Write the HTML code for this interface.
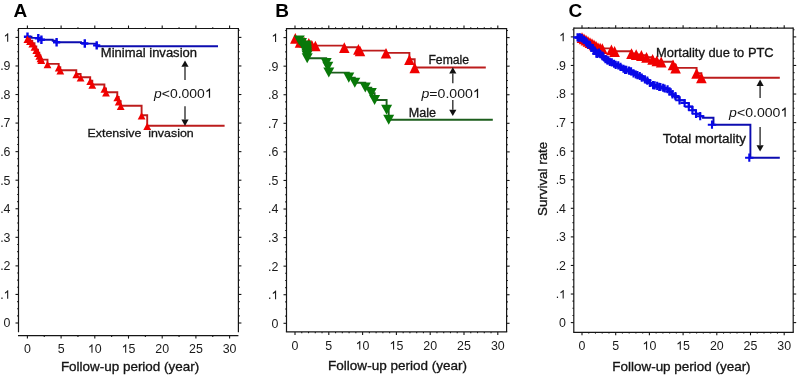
<!DOCTYPE html>
<html><head><meta charset="utf-8"><style>
html,body{margin:0;padding:0;background:#fff;}
svg{display:block;font-family:"Liberation Sans", sans-serif;will-change:transform;}
</style></head><body>
<svg width="798" height="375" viewBox="0 0 798 375">
<rect width="798" height="375" fill="#fff"/>
<line x1="18.50" y1="28.50" x2="238.40" y2="28.50" stroke="#151515" stroke-width="1.2"/>
<line x1="18.50" y1="27.90" x2="18.50" y2="332.30" stroke="#151515" stroke-width="1.2"/>
<line x1="238.40" y1="27.90" x2="238.40" y2="332.30" stroke="#151515" stroke-width="1.2"/>
<line x1="18.00" y1="335.60" x2="238.40" y2="335.60" stroke="#151515" stroke-width="1.2"/>
<line x1="15.50" y1="323.00" x2="18.50" y2="323.00" stroke="#151515" stroke-width="1.1"/>
<line x1="238.40" y1="323.00" x2="241.40" y2="323.00" stroke="#151515" stroke-width="1.1"/>
<line x1="17.20" y1="315.86" x2="18.50" y2="315.86" stroke="#151515" stroke-width="1.1"/>
<line x1="238.40" y1="315.86" x2="239.70" y2="315.86" stroke="#151515" stroke-width="1.1"/>
<line x1="17.20" y1="308.72" x2="18.50" y2="308.72" stroke="#151515" stroke-width="1.1"/>
<line x1="238.40" y1="308.72" x2="239.70" y2="308.72" stroke="#151515" stroke-width="1.1"/>
<line x1="17.20" y1="301.58" x2="18.50" y2="301.58" stroke="#151515" stroke-width="1.1"/>
<line x1="238.40" y1="301.58" x2="239.70" y2="301.58" stroke="#151515" stroke-width="1.1"/>
<line x1="15.50" y1="294.44" x2="18.50" y2="294.44" stroke="#151515" stroke-width="1.1"/>
<line x1="238.40" y1="294.44" x2="241.40" y2="294.44" stroke="#151515" stroke-width="1.1"/>
<line x1="17.20" y1="287.30" x2="18.50" y2="287.30" stroke="#151515" stroke-width="1.1"/>
<line x1="238.40" y1="287.30" x2="239.70" y2="287.30" stroke="#151515" stroke-width="1.1"/>
<line x1="17.20" y1="280.16" x2="18.50" y2="280.16" stroke="#151515" stroke-width="1.1"/>
<line x1="238.40" y1="280.16" x2="239.70" y2="280.16" stroke="#151515" stroke-width="1.1"/>
<line x1="17.20" y1="273.02" x2="18.50" y2="273.02" stroke="#151515" stroke-width="1.1"/>
<line x1="238.40" y1="273.02" x2="239.70" y2="273.02" stroke="#151515" stroke-width="1.1"/>
<line x1="15.50" y1="265.88" x2="18.50" y2="265.88" stroke="#151515" stroke-width="1.1"/>
<line x1="238.40" y1="265.88" x2="241.40" y2="265.88" stroke="#151515" stroke-width="1.1"/>
<line x1="17.20" y1="258.74" x2="18.50" y2="258.74" stroke="#151515" stroke-width="1.1"/>
<line x1="238.40" y1="258.74" x2="239.70" y2="258.74" stroke="#151515" stroke-width="1.1"/>
<line x1="17.20" y1="251.60" x2="18.50" y2="251.60" stroke="#151515" stroke-width="1.1"/>
<line x1="238.40" y1="251.60" x2="239.70" y2="251.60" stroke="#151515" stroke-width="1.1"/>
<line x1="17.20" y1="244.46" x2="18.50" y2="244.46" stroke="#151515" stroke-width="1.1"/>
<line x1="238.40" y1="244.46" x2="239.70" y2="244.46" stroke="#151515" stroke-width="1.1"/>
<line x1="15.50" y1="237.32" x2="18.50" y2="237.32" stroke="#151515" stroke-width="1.1"/>
<line x1="238.40" y1="237.32" x2="241.40" y2="237.32" stroke="#151515" stroke-width="1.1"/>
<line x1="17.20" y1="230.18" x2="18.50" y2="230.18" stroke="#151515" stroke-width="1.1"/>
<line x1="238.40" y1="230.18" x2="239.70" y2="230.18" stroke="#151515" stroke-width="1.1"/>
<line x1="17.20" y1="223.04" x2="18.50" y2="223.04" stroke="#151515" stroke-width="1.1"/>
<line x1="238.40" y1="223.04" x2="239.70" y2="223.04" stroke="#151515" stroke-width="1.1"/>
<line x1="17.20" y1="215.90" x2="18.50" y2="215.90" stroke="#151515" stroke-width="1.1"/>
<line x1="238.40" y1="215.90" x2="239.70" y2="215.90" stroke="#151515" stroke-width="1.1"/>
<line x1="15.50" y1="208.76" x2="18.50" y2="208.76" stroke="#151515" stroke-width="1.1"/>
<line x1="238.40" y1="208.76" x2="241.40" y2="208.76" stroke="#151515" stroke-width="1.1"/>
<line x1="17.20" y1="201.62" x2="18.50" y2="201.62" stroke="#151515" stroke-width="1.1"/>
<line x1="238.40" y1="201.62" x2="239.70" y2="201.62" stroke="#151515" stroke-width="1.1"/>
<line x1="17.20" y1="194.48" x2="18.50" y2="194.48" stroke="#151515" stroke-width="1.1"/>
<line x1="238.40" y1="194.48" x2="239.70" y2="194.48" stroke="#151515" stroke-width="1.1"/>
<line x1="17.20" y1="187.34" x2="18.50" y2="187.34" stroke="#151515" stroke-width="1.1"/>
<line x1="238.40" y1="187.34" x2="239.70" y2="187.34" stroke="#151515" stroke-width="1.1"/>
<line x1="15.50" y1="180.20" x2="18.50" y2="180.20" stroke="#151515" stroke-width="1.1"/>
<line x1="238.40" y1="180.20" x2="241.40" y2="180.20" stroke="#151515" stroke-width="1.1"/>
<line x1="17.20" y1="173.06" x2="18.50" y2="173.06" stroke="#151515" stroke-width="1.1"/>
<line x1="238.40" y1="173.06" x2="239.70" y2="173.06" stroke="#151515" stroke-width="1.1"/>
<line x1="17.20" y1="165.92" x2="18.50" y2="165.92" stroke="#151515" stroke-width="1.1"/>
<line x1="238.40" y1="165.92" x2="239.70" y2="165.92" stroke="#151515" stroke-width="1.1"/>
<line x1="17.20" y1="158.78" x2="18.50" y2="158.78" stroke="#151515" stroke-width="1.1"/>
<line x1="238.40" y1="158.78" x2="239.70" y2="158.78" stroke="#151515" stroke-width="1.1"/>
<line x1="15.50" y1="151.64" x2="18.50" y2="151.64" stroke="#151515" stroke-width="1.1"/>
<line x1="238.40" y1="151.64" x2="241.40" y2="151.64" stroke="#151515" stroke-width="1.1"/>
<line x1="17.20" y1="144.50" x2="18.50" y2="144.50" stroke="#151515" stroke-width="1.1"/>
<line x1="238.40" y1="144.50" x2="239.70" y2="144.50" stroke="#151515" stroke-width="1.1"/>
<line x1="17.20" y1="137.36" x2="18.50" y2="137.36" stroke="#151515" stroke-width="1.1"/>
<line x1="238.40" y1="137.36" x2="239.70" y2="137.36" stroke="#151515" stroke-width="1.1"/>
<line x1="17.20" y1="130.22" x2="18.50" y2="130.22" stroke="#151515" stroke-width="1.1"/>
<line x1="238.40" y1="130.22" x2="239.70" y2="130.22" stroke="#151515" stroke-width="1.1"/>
<line x1="15.50" y1="123.08" x2="18.50" y2="123.08" stroke="#151515" stroke-width="1.1"/>
<line x1="238.40" y1="123.08" x2="241.40" y2="123.08" stroke="#151515" stroke-width="1.1"/>
<line x1="17.20" y1="115.94" x2="18.50" y2="115.94" stroke="#151515" stroke-width="1.1"/>
<line x1="238.40" y1="115.94" x2="239.70" y2="115.94" stroke="#151515" stroke-width="1.1"/>
<line x1="17.20" y1="108.80" x2="18.50" y2="108.80" stroke="#151515" stroke-width="1.1"/>
<line x1="238.40" y1="108.80" x2="239.70" y2="108.80" stroke="#151515" stroke-width="1.1"/>
<line x1="17.20" y1="101.66" x2="18.50" y2="101.66" stroke="#151515" stroke-width="1.1"/>
<line x1="238.40" y1="101.66" x2="239.70" y2="101.66" stroke="#151515" stroke-width="1.1"/>
<line x1="15.50" y1="94.52" x2="18.50" y2="94.52" stroke="#151515" stroke-width="1.1"/>
<line x1="238.40" y1="94.52" x2="241.40" y2="94.52" stroke="#151515" stroke-width="1.1"/>
<line x1="17.20" y1="87.38" x2="18.50" y2="87.38" stroke="#151515" stroke-width="1.1"/>
<line x1="238.40" y1="87.38" x2="239.70" y2="87.38" stroke="#151515" stroke-width="1.1"/>
<line x1="17.20" y1="80.24" x2="18.50" y2="80.24" stroke="#151515" stroke-width="1.1"/>
<line x1="238.40" y1="80.24" x2="239.70" y2="80.24" stroke="#151515" stroke-width="1.1"/>
<line x1="17.20" y1="73.10" x2="18.50" y2="73.10" stroke="#151515" stroke-width="1.1"/>
<line x1="238.40" y1="73.10" x2="239.70" y2="73.10" stroke="#151515" stroke-width="1.1"/>
<line x1="15.50" y1="65.96" x2="18.50" y2="65.96" stroke="#151515" stroke-width="1.1"/>
<line x1="238.40" y1="65.96" x2="241.40" y2="65.96" stroke="#151515" stroke-width="1.1"/>
<line x1="17.20" y1="58.82" x2="18.50" y2="58.82" stroke="#151515" stroke-width="1.1"/>
<line x1="238.40" y1="58.82" x2="239.70" y2="58.82" stroke="#151515" stroke-width="1.1"/>
<line x1="17.20" y1="51.68" x2="18.50" y2="51.68" stroke="#151515" stroke-width="1.1"/>
<line x1="238.40" y1="51.68" x2="239.70" y2="51.68" stroke="#151515" stroke-width="1.1"/>
<line x1="17.20" y1="44.54" x2="18.50" y2="44.54" stroke="#151515" stroke-width="1.1"/>
<line x1="238.40" y1="44.54" x2="239.70" y2="44.54" stroke="#151515" stroke-width="1.1"/>
<line x1="15.50" y1="37.40" x2="18.50" y2="37.40" stroke="#151515" stroke-width="1.1"/>
<line x1="238.40" y1="37.40" x2="241.40" y2="37.40" stroke="#151515" stroke-width="1.1"/>
<line x1="17.20" y1="30.26" x2="18.50" y2="30.26" stroke="#151515" stroke-width="1.1"/>
<line x1="238.40" y1="30.26" x2="239.70" y2="30.26" stroke="#151515" stroke-width="1.1"/>
<line x1="27.40" y1="335.60" x2="27.40" y2="338.60" stroke="#151515" stroke-width="1.1"/>
<line x1="27.40" y1="25.50" x2="27.40" y2="28.50" stroke="#151515" stroke-width="1.1"/>
<line x1="44.25" y1="335.60" x2="44.25" y2="336.90" stroke="#151515" stroke-width="1.1"/>
<line x1="44.25" y1="27.20" x2="44.25" y2="28.50" stroke="#151515" stroke-width="1.1"/>
<line x1="61.10" y1="335.60" x2="61.10" y2="338.60" stroke="#151515" stroke-width="1.1"/>
<line x1="61.10" y1="25.50" x2="61.10" y2="28.50" stroke="#151515" stroke-width="1.1"/>
<line x1="77.95" y1="335.60" x2="77.95" y2="336.90" stroke="#151515" stroke-width="1.1"/>
<line x1="77.95" y1="27.20" x2="77.95" y2="28.50" stroke="#151515" stroke-width="1.1"/>
<line x1="94.80" y1="335.60" x2="94.80" y2="338.60" stroke="#151515" stroke-width="1.1"/>
<line x1="94.80" y1="25.50" x2="94.80" y2="28.50" stroke="#151515" stroke-width="1.1"/>
<line x1="111.65" y1="335.60" x2="111.65" y2="336.90" stroke="#151515" stroke-width="1.1"/>
<line x1="111.65" y1="27.20" x2="111.65" y2="28.50" stroke="#151515" stroke-width="1.1"/>
<line x1="128.50" y1="335.60" x2="128.50" y2="338.60" stroke="#151515" stroke-width="1.1"/>
<line x1="128.50" y1="25.50" x2="128.50" y2="28.50" stroke="#151515" stroke-width="1.1"/>
<line x1="145.35" y1="335.60" x2="145.35" y2="336.90" stroke="#151515" stroke-width="1.1"/>
<line x1="145.35" y1="27.20" x2="145.35" y2="28.50" stroke="#151515" stroke-width="1.1"/>
<line x1="162.20" y1="335.60" x2="162.20" y2="338.60" stroke="#151515" stroke-width="1.1"/>
<line x1="162.20" y1="25.50" x2="162.20" y2="28.50" stroke="#151515" stroke-width="1.1"/>
<line x1="179.05" y1="335.60" x2="179.05" y2="336.90" stroke="#151515" stroke-width="1.1"/>
<line x1="179.05" y1="27.20" x2="179.05" y2="28.50" stroke="#151515" stroke-width="1.1"/>
<line x1="195.90" y1="335.60" x2="195.90" y2="338.60" stroke="#151515" stroke-width="1.1"/>
<line x1="195.90" y1="25.50" x2="195.90" y2="28.50" stroke="#151515" stroke-width="1.1"/>
<line x1="212.75" y1="335.60" x2="212.75" y2="336.90" stroke="#151515" stroke-width="1.1"/>
<line x1="212.75" y1="27.20" x2="212.75" y2="28.50" stroke="#151515" stroke-width="1.1"/>
<line x1="229.60" y1="335.60" x2="229.60" y2="338.60" stroke="#151515" stroke-width="1.1"/>
<line x1="229.60" y1="25.50" x2="229.60" y2="28.50" stroke="#151515" stroke-width="1.1"/>
<text x="3.60" y="327.40" font-size="12.4" fill="#1a1a1a">0</text>
<text x="0.16" y="298.84" font-size="12.4" fill="#1a1a1a">.</text>
<path d="M583,0L763,0L763,1409L640,1409Q570,1250 223,1060L223,850Q420,950 583,1070Z" fill="#1a1a1a" transform="translate(3.60,298.84) scale(0.006055,-0.006055)"/>
<text x="0.16" y="270.28" font-size="12.4" fill="#1a1a1a">.</text>
<text x="3.60" y="270.28" font-size="12.4" fill="#1a1a1a">2</text>
<text x="0.16" y="241.72" font-size="12.4" fill="#1a1a1a">.</text>
<text x="3.60" y="241.72" font-size="12.4" fill="#1a1a1a">3</text>
<text x="0.16" y="213.16" font-size="12.4" fill="#1a1a1a">.</text>
<text x="3.60" y="213.16" font-size="12.4" fill="#1a1a1a">4</text>
<text x="0.16" y="184.60" font-size="12.4" fill="#1a1a1a">.</text>
<text x="3.60" y="184.60" font-size="12.4" fill="#1a1a1a">5</text>
<text x="0.16" y="156.04" font-size="12.4" fill="#1a1a1a">.</text>
<text x="3.60" y="156.04" font-size="12.4" fill="#1a1a1a">6</text>
<text x="0.16" y="127.48" font-size="12.4" fill="#1a1a1a">.</text>
<text x="3.60" y="127.48" font-size="12.4" fill="#1a1a1a">7</text>
<text x="0.16" y="98.92" font-size="12.4" fill="#1a1a1a">.</text>
<text x="3.60" y="98.92" font-size="12.4" fill="#1a1a1a">8</text>
<text x="0.16" y="70.36" font-size="12.4" fill="#1a1a1a">.</text>
<text x="3.60" y="70.36" font-size="12.4" fill="#1a1a1a">9</text>
<path d="M583,0L763,0L763,1409L640,1409Q570,1250 223,1060L223,850Q420,950 583,1070Z" fill="#1a1a1a" transform="translate(3.60,41.80) scale(0.006055,-0.006055)"/>
<text x="23.95" y="352.80" font-size="12.4" fill="#1a1a1a">0</text>
<text x="57.65" y="352.80" font-size="12.4" fill="#1a1a1a">5</text>
<path d="M583,0L763,0L763,1409L640,1409Q570,1250 223,1060L223,850Q420,950 583,1070Z" fill="#1a1a1a" transform="translate(87.90,352.80) scale(0.006055,-0.006055)"/>
<text x="94.80" y="352.80" font-size="12.4" fill="#1a1a1a">0</text>
<path d="M583,0L763,0L763,1409L640,1409Q570,1250 223,1060L223,850Q420,950 583,1070Z" fill="#1a1a1a" transform="translate(121.60,352.80) scale(0.006055,-0.006055)"/>
<text x="128.50" y="352.80" font-size="12.4" fill="#1a1a1a">5</text>
<text x="155.30" y="352.80" font-size="12.4" fill="#1a1a1a">2</text>
<text x="162.20" y="352.80" font-size="12.4" fill="#1a1a1a">0</text>
<text x="189.00" y="352.80" font-size="12.4" fill="#1a1a1a">2</text>
<text x="195.90" y="352.80" font-size="12.4" fill="#1a1a1a">5</text>
<text x="222.70" y="352.80" font-size="12.4" fill="#1a1a1a">3</text>
<text x="229.60" y="352.80" font-size="12.4" fill="#1a1a1a">0</text>
<line x1="286.50" y1="28.60" x2="506.60" y2="28.60" stroke="#151515" stroke-width="1.2"/>
<line x1="286.50" y1="28.00" x2="286.50" y2="331.90" stroke="#151515" stroke-width="1.2"/>
<line x1="506.60" y1="28.00" x2="506.60" y2="331.90" stroke="#151515" stroke-width="1.2"/>
<line x1="285.90" y1="331.90" x2="507.20" y2="331.90" stroke="#151515" stroke-width="1.2"/>
<line x1="283.50" y1="323.30" x2="286.50" y2="323.30" stroke="#151515" stroke-width="1.1"/>
<line x1="506.60" y1="323.30" x2="509.60" y2="323.30" stroke="#151515" stroke-width="1.1"/>
<line x1="285.20" y1="316.16" x2="286.50" y2="316.16" stroke="#151515" stroke-width="1.1"/>
<line x1="506.60" y1="316.16" x2="507.90" y2="316.16" stroke="#151515" stroke-width="1.1"/>
<line x1="285.20" y1="309.02" x2="286.50" y2="309.02" stroke="#151515" stroke-width="1.1"/>
<line x1="506.60" y1="309.02" x2="507.90" y2="309.02" stroke="#151515" stroke-width="1.1"/>
<line x1="285.20" y1="301.87" x2="286.50" y2="301.87" stroke="#151515" stroke-width="1.1"/>
<line x1="506.60" y1="301.87" x2="507.90" y2="301.87" stroke="#151515" stroke-width="1.1"/>
<line x1="283.50" y1="294.73" x2="286.50" y2="294.73" stroke="#151515" stroke-width="1.1"/>
<line x1="506.60" y1="294.73" x2="509.60" y2="294.73" stroke="#151515" stroke-width="1.1"/>
<line x1="285.20" y1="287.59" x2="286.50" y2="287.59" stroke="#151515" stroke-width="1.1"/>
<line x1="506.60" y1="287.59" x2="507.90" y2="287.59" stroke="#151515" stroke-width="1.1"/>
<line x1="285.20" y1="280.45" x2="286.50" y2="280.45" stroke="#151515" stroke-width="1.1"/>
<line x1="506.60" y1="280.45" x2="507.90" y2="280.45" stroke="#151515" stroke-width="1.1"/>
<line x1="285.20" y1="273.30" x2="286.50" y2="273.30" stroke="#151515" stroke-width="1.1"/>
<line x1="506.60" y1="273.30" x2="507.90" y2="273.30" stroke="#151515" stroke-width="1.1"/>
<line x1="283.50" y1="266.16" x2="286.50" y2="266.16" stroke="#151515" stroke-width="1.1"/>
<line x1="506.60" y1="266.16" x2="509.60" y2="266.16" stroke="#151515" stroke-width="1.1"/>
<line x1="285.20" y1="259.02" x2="286.50" y2="259.02" stroke="#151515" stroke-width="1.1"/>
<line x1="506.60" y1="259.02" x2="507.90" y2="259.02" stroke="#151515" stroke-width="1.1"/>
<line x1="285.20" y1="251.88" x2="286.50" y2="251.88" stroke="#151515" stroke-width="1.1"/>
<line x1="506.60" y1="251.88" x2="507.90" y2="251.88" stroke="#151515" stroke-width="1.1"/>
<line x1="285.20" y1="244.73" x2="286.50" y2="244.73" stroke="#151515" stroke-width="1.1"/>
<line x1="506.60" y1="244.73" x2="507.90" y2="244.73" stroke="#151515" stroke-width="1.1"/>
<line x1="283.50" y1="237.59" x2="286.50" y2="237.59" stroke="#151515" stroke-width="1.1"/>
<line x1="506.60" y1="237.59" x2="509.60" y2="237.59" stroke="#151515" stroke-width="1.1"/>
<line x1="285.20" y1="230.45" x2="286.50" y2="230.45" stroke="#151515" stroke-width="1.1"/>
<line x1="506.60" y1="230.45" x2="507.90" y2="230.45" stroke="#151515" stroke-width="1.1"/>
<line x1="285.20" y1="223.30" x2="286.50" y2="223.30" stroke="#151515" stroke-width="1.1"/>
<line x1="506.60" y1="223.30" x2="507.90" y2="223.30" stroke="#151515" stroke-width="1.1"/>
<line x1="285.20" y1="216.16" x2="286.50" y2="216.16" stroke="#151515" stroke-width="1.1"/>
<line x1="506.60" y1="216.16" x2="507.90" y2="216.16" stroke="#151515" stroke-width="1.1"/>
<line x1="283.50" y1="209.02" x2="286.50" y2="209.02" stroke="#151515" stroke-width="1.1"/>
<line x1="506.60" y1="209.02" x2="509.60" y2="209.02" stroke="#151515" stroke-width="1.1"/>
<line x1="285.20" y1="201.88" x2="286.50" y2="201.88" stroke="#151515" stroke-width="1.1"/>
<line x1="506.60" y1="201.88" x2="507.90" y2="201.88" stroke="#151515" stroke-width="1.1"/>
<line x1="285.20" y1="194.74" x2="286.50" y2="194.74" stroke="#151515" stroke-width="1.1"/>
<line x1="506.60" y1="194.74" x2="507.90" y2="194.74" stroke="#151515" stroke-width="1.1"/>
<line x1="285.20" y1="187.59" x2="286.50" y2="187.59" stroke="#151515" stroke-width="1.1"/>
<line x1="506.60" y1="187.59" x2="507.90" y2="187.59" stroke="#151515" stroke-width="1.1"/>
<line x1="283.50" y1="180.45" x2="286.50" y2="180.45" stroke="#151515" stroke-width="1.1"/>
<line x1="506.60" y1="180.45" x2="509.60" y2="180.45" stroke="#151515" stroke-width="1.1"/>
<line x1="285.20" y1="173.31" x2="286.50" y2="173.31" stroke="#151515" stroke-width="1.1"/>
<line x1="506.60" y1="173.31" x2="507.90" y2="173.31" stroke="#151515" stroke-width="1.1"/>
<line x1="285.20" y1="166.16" x2="286.50" y2="166.16" stroke="#151515" stroke-width="1.1"/>
<line x1="506.60" y1="166.16" x2="507.90" y2="166.16" stroke="#151515" stroke-width="1.1"/>
<line x1="285.20" y1="159.02" x2="286.50" y2="159.02" stroke="#151515" stroke-width="1.1"/>
<line x1="506.60" y1="159.02" x2="507.90" y2="159.02" stroke="#151515" stroke-width="1.1"/>
<line x1="283.50" y1="151.88" x2="286.50" y2="151.88" stroke="#151515" stroke-width="1.1"/>
<line x1="506.60" y1="151.88" x2="509.60" y2="151.88" stroke="#151515" stroke-width="1.1"/>
<line x1="285.20" y1="144.74" x2="286.50" y2="144.74" stroke="#151515" stroke-width="1.1"/>
<line x1="506.60" y1="144.74" x2="507.90" y2="144.74" stroke="#151515" stroke-width="1.1"/>
<line x1="285.20" y1="137.59" x2="286.50" y2="137.59" stroke="#151515" stroke-width="1.1"/>
<line x1="506.60" y1="137.59" x2="507.90" y2="137.59" stroke="#151515" stroke-width="1.1"/>
<line x1="285.20" y1="130.45" x2="286.50" y2="130.45" stroke="#151515" stroke-width="1.1"/>
<line x1="506.60" y1="130.45" x2="507.90" y2="130.45" stroke="#151515" stroke-width="1.1"/>
<line x1="283.50" y1="123.31" x2="286.50" y2="123.31" stroke="#151515" stroke-width="1.1"/>
<line x1="506.60" y1="123.31" x2="509.60" y2="123.31" stroke="#151515" stroke-width="1.1"/>
<line x1="285.20" y1="116.17" x2="286.50" y2="116.17" stroke="#151515" stroke-width="1.1"/>
<line x1="506.60" y1="116.17" x2="507.90" y2="116.17" stroke="#151515" stroke-width="1.1"/>
<line x1="285.20" y1="109.03" x2="286.50" y2="109.03" stroke="#151515" stroke-width="1.1"/>
<line x1="506.60" y1="109.03" x2="507.90" y2="109.03" stroke="#151515" stroke-width="1.1"/>
<line x1="285.20" y1="101.88" x2="286.50" y2="101.88" stroke="#151515" stroke-width="1.1"/>
<line x1="506.60" y1="101.88" x2="507.90" y2="101.88" stroke="#151515" stroke-width="1.1"/>
<line x1="283.50" y1="94.74" x2="286.50" y2="94.74" stroke="#151515" stroke-width="1.1"/>
<line x1="506.60" y1="94.74" x2="509.60" y2="94.74" stroke="#151515" stroke-width="1.1"/>
<line x1="285.20" y1="87.60" x2="286.50" y2="87.60" stroke="#151515" stroke-width="1.1"/>
<line x1="506.60" y1="87.60" x2="507.90" y2="87.60" stroke="#151515" stroke-width="1.1"/>
<line x1="285.20" y1="80.45" x2="286.50" y2="80.45" stroke="#151515" stroke-width="1.1"/>
<line x1="506.60" y1="80.45" x2="507.90" y2="80.45" stroke="#151515" stroke-width="1.1"/>
<line x1="285.20" y1="73.31" x2="286.50" y2="73.31" stroke="#151515" stroke-width="1.1"/>
<line x1="506.60" y1="73.31" x2="507.90" y2="73.31" stroke="#151515" stroke-width="1.1"/>
<line x1="283.50" y1="66.17" x2="286.50" y2="66.17" stroke="#151515" stroke-width="1.1"/>
<line x1="506.60" y1="66.17" x2="509.60" y2="66.17" stroke="#151515" stroke-width="1.1"/>
<line x1="285.20" y1="59.03" x2="286.50" y2="59.03" stroke="#151515" stroke-width="1.1"/>
<line x1="506.60" y1="59.03" x2="507.90" y2="59.03" stroke="#151515" stroke-width="1.1"/>
<line x1="285.20" y1="51.88" x2="286.50" y2="51.88" stroke="#151515" stroke-width="1.1"/>
<line x1="506.60" y1="51.88" x2="507.90" y2="51.88" stroke="#151515" stroke-width="1.1"/>
<line x1="285.20" y1="44.74" x2="286.50" y2="44.74" stroke="#151515" stroke-width="1.1"/>
<line x1="506.60" y1="44.74" x2="507.90" y2="44.74" stroke="#151515" stroke-width="1.1"/>
<line x1="283.50" y1="37.60" x2="286.50" y2="37.60" stroke="#151515" stroke-width="1.1"/>
<line x1="506.60" y1="37.60" x2="509.60" y2="37.60" stroke="#151515" stroke-width="1.1"/>
<line x1="285.20" y1="30.46" x2="286.50" y2="30.46" stroke="#151515" stroke-width="1.1"/>
<line x1="506.60" y1="30.46" x2="507.90" y2="30.46" stroke="#151515" stroke-width="1.1"/>
<line x1="295.00" y1="331.90" x2="295.00" y2="334.90" stroke="#151515" stroke-width="1.1"/>
<line x1="295.00" y1="25.60" x2="295.00" y2="28.60" stroke="#151515" stroke-width="1.1"/>
<line x1="301.76" y1="331.90" x2="301.76" y2="333.20" stroke="#151515" stroke-width="1.1"/>
<line x1="301.76" y1="27.30" x2="301.76" y2="28.60" stroke="#151515" stroke-width="1.1"/>
<line x1="308.52" y1="331.90" x2="308.52" y2="333.20" stroke="#151515" stroke-width="1.1"/>
<line x1="308.52" y1="27.30" x2="308.52" y2="28.60" stroke="#151515" stroke-width="1.1"/>
<line x1="315.28" y1="331.90" x2="315.28" y2="333.20" stroke="#151515" stroke-width="1.1"/>
<line x1="315.28" y1="27.30" x2="315.28" y2="28.60" stroke="#151515" stroke-width="1.1"/>
<line x1="322.04" y1="331.90" x2="322.04" y2="333.20" stroke="#151515" stroke-width="1.1"/>
<line x1="322.04" y1="27.30" x2="322.04" y2="28.60" stroke="#151515" stroke-width="1.1"/>
<line x1="328.80" y1="331.90" x2="328.80" y2="334.90" stroke="#151515" stroke-width="1.1"/>
<line x1="328.80" y1="25.60" x2="328.80" y2="28.60" stroke="#151515" stroke-width="1.1"/>
<line x1="335.56" y1="331.90" x2="335.56" y2="333.20" stroke="#151515" stroke-width="1.1"/>
<line x1="335.56" y1="27.30" x2="335.56" y2="28.60" stroke="#151515" stroke-width="1.1"/>
<line x1="342.32" y1="331.90" x2="342.32" y2="333.20" stroke="#151515" stroke-width="1.1"/>
<line x1="342.32" y1="27.30" x2="342.32" y2="28.60" stroke="#151515" stroke-width="1.1"/>
<line x1="349.08" y1="331.90" x2="349.08" y2="333.20" stroke="#151515" stroke-width="1.1"/>
<line x1="349.08" y1="27.30" x2="349.08" y2="28.60" stroke="#151515" stroke-width="1.1"/>
<line x1="355.84" y1="331.90" x2="355.84" y2="333.20" stroke="#151515" stroke-width="1.1"/>
<line x1="355.84" y1="27.30" x2="355.84" y2="28.60" stroke="#151515" stroke-width="1.1"/>
<line x1="362.60" y1="331.90" x2="362.60" y2="334.90" stroke="#151515" stroke-width="1.1"/>
<line x1="362.60" y1="25.60" x2="362.60" y2="28.60" stroke="#151515" stroke-width="1.1"/>
<line x1="369.36" y1="331.90" x2="369.36" y2="333.20" stroke="#151515" stroke-width="1.1"/>
<line x1="369.36" y1="27.30" x2="369.36" y2="28.60" stroke="#151515" stroke-width="1.1"/>
<line x1="376.12" y1="331.90" x2="376.12" y2="333.20" stroke="#151515" stroke-width="1.1"/>
<line x1="376.12" y1="27.30" x2="376.12" y2="28.60" stroke="#151515" stroke-width="1.1"/>
<line x1="382.88" y1="331.90" x2="382.88" y2="333.20" stroke="#151515" stroke-width="1.1"/>
<line x1="382.88" y1="27.30" x2="382.88" y2="28.60" stroke="#151515" stroke-width="1.1"/>
<line x1="389.64" y1="331.90" x2="389.64" y2="333.20" stroke="#151515" stroke-width="1.1"/>
<line x1="389.64" y1="27.30" x2="389.64" y2="28.60" stroke="#151515" stroke-width="1.1"/>
<line x1="396.40" y1="331.90" x2="396.40" y2="334.90" stroke="#151515" stroke-width="1.1"/>
<line x1="396.40" y1="25.60" x2="396.40" y2="28.60" stroke="#151515" stroke-width="1.1"/>
<line x1="403.16" y1="331.90" x2="403.16" y2="333.20" stroke="#151515" stroke-width="1.1"/>
<line x1="403.16" y1="27.30" x2="403.16" y2="28.60" stroke="#151515" stroke-width="1.1"/>
<line x1="409.92" y1="331.90" x2="409.92" y2="333.20" stroke="#151515" stroke-width="1.1"/>
<line x1="409.92" y1="27.30" x2="409.92" y2="28.60" stroke="#151515" stroke-width="1.1"/>
<line x1="416.68" y1="331.90" x2="416.68" y2="333.20" stroke="#151515" stroke-width="1.1"/>
<line x1="416.68" y1="27.30" x2="416.68" y2="28.60" stroke="#151515" stroke-width="1.1"/>
<line x1="423.44" y1="331.90" x2="423.44" y2="333.20" stroke="#151515" stroke-width="1.1"/>
<line x1="423.44" y1="27.30" x2="423.44" y2="28.60" stroke="#151515" stroke-width="1.1"/>
<line x1="430.20" y1="331.90" x2="430.20" y2="334.90" stroke="#151515" stroke-width="1.1"/>
<line x1="430.20" y1="25.60" x2="430.20" y2="28.60" stroke="#151515" stroke-width="1.1"/>
<line x1="436.96" y1="331.90" x2="436.96" y2="333.20" stroke="#151515" stroke-width="1.1"/>
<line x1="436.96" y1="27.30" x2="436.96" y2="28.60" stroke="#151515" stroke-width="1.1"/>
<line x1="443.72" y1="331.90" x2="443.72" y2="333.20" stroke="#151515" stroke-width="1.1"/>
<line x1="443.72" y1="27.30" x2="443.72" y2="28.60" stroke="#151515" stroke-width="1.1"/>
<line x1="450.48" y1="331.90" x2="450.48" y2="333.20" stroke="#151515" stroke-width="1.1"/>
<line x1="450.48" y1="27.30" x2="450.48" y2="28.60" stroke="#151515" stroke-width="1.1"/>
<line x1="457.24" y1="331.90" x2="457.24" y2="333.20" stroke="#151515" stroke-width="1.1"/>
<line x1="457.24" y1="27.30" x2="457.24" y2="28.60" stroke="#151515" stroke-width="1.1"/>
<line x1="464.00" y1="331.90" x2="464.00" y2="334.90" stroke="#151515" stroke-width="1.1"/>
<line x1="464.00" y1="25.60" x2="464.00" y2="28.60" stroke="#151515" stroke-width="1.1"/>
<line x1="470.76" y1="331.90" x2="470.76" y2="333.20" stroke="#151515" stroke-width="1.1"/>
<line x1="470.76" y1="27.30" x2="470.76" y2="28.60" stroke="#151515" stroke-width="1.1"/>
<line x1="477.52" y1="331.90" x2="477.52" y2="333.20" stroke="#151515" stroke-width="1.1"/>
<line x1="477.52" y1="27.30" x2="477.52" y2="28.60" stroke="#151515" stroke-width="1.1"/>
<line x1="484.28" y1="331.90" x2="484.28" y2="333.20" stroke="#151515" stroke-width="1.1"/>
<line x1="484.28" y1="27.30" x2="484.28" y2="28.60" stroke="#151515" stroke-width="1.1"/>
<line x1="491.04" y1="331.90" x2="491.04" y2="333.20" stroke="#151515" stroke-width="1.1"/>
<line x1="491.04" y1="27.30" x2="491.04" y2="28.60" stroke="#151515" stroke-width="1.1"/>
<line x1="497.80" y1="331.90" x2="497.80" y2="334.90" stroke="#151515" stroke-width="1.1"/>
<line x1="497.80" y1="25.60" x2="497.80" y2="28.60" stroke="#151515" stroke-width="1.1"/>
<text x="271.50" y="327.70" font-size="12.4" fill="#1a1a1a">0</text>
<text x="268.06" y="299.13" font-size="12.4" fill="#1a1a1a">.</text>
<path d="M583,0L763,0L763,1409L640,1409Q570,1250 223,1060L223,850Q420,950 583,1070Z" fill="#1a1a1a" transform="translate(271.50,299.13) scale(0.006055,-0.006055)"/>
<text x="268.06" y="270.56" font-size="12.4" fill="#1a1a1a">.</text>
<text x="271.50" y="270.56" font-size="12.4" fill="#1a1a1a">2</text>
<text x="268.06" y="241.99" font-size="12.4" fill="#1a1a1a">.</text>
<text x="271.50" y="241.99" font-size="12.4" fill="#1a1a1a">3</text>
<text x="268.06" y="213.42" font-size="12.4" fill="#1a1a1a">.</text>
<text x="271.50" y="213.42" font-size="12.4" fill="#1a1a1a">4</text>
<text x="268.06" y="184.85" font-size="12.4" fill="#1a1a1a">.</text>
<text x="271.50" y="184.85" font-size="12.4" fill="#1a1a1a">5</text>
<text x="268.06" y="156.28" font-size="12.4" fill="#1a1a1a">.</text>
<text x="271.50" y="156.28" font-size="12.4" fill="#1a1a1a">6</text>
<text x="268.06" y="127.71" font-size="12.4" fill="#1a1a1a">.</text>
<text x="271.50" y="127.71" font-size="12.4" fill="#1a1a1a">7</text>
<text x="268.06" y="99.14" font-size="12.4" fill="#1a1a1a">.</text>
<text x="271.50" y="99.14" font-size="12.4" fill="#1a1a1a">8</text>
<text x="268.06" y="70.57" font-size="12.4" fill="#1a1a1a">.</text>
<text x="271.50" y="70.57" font-size="12.4" fill="#1a1a1a">9</text>
<path d="M583,0L763,0L763,1409L640,1409Q570,1250 223,1060L223,850Q420,950 583,1070Z" fill="#1a1a1a" transform="translate(271.50,42.00) scale(0.006055,-0.006055)"/>
<text x="291.55" y="349.50" font-size="12.4" fill="#1a1a1a">0</text>
<text x="325.35" y="349.50" font-size="12.4" fill="#1a1a1a">5</text>
<path d="M583,0L763,0L763,1409L640,1409Q570,1250 223,1060L223,850Q420,950 583,1070Z" fill="#1a1a1a" transform="translate(355.70,349.50) scale(0.006055,-0.006055)"/>
<text x="362.60" y="349.50" font-size="12.4" fill="#1a1a1a">0</text>
<path d="M583,0L763,0L763,1409L640,1409Q570,1250 223,1060L223,850Q420,950 583,1070Z" fill="#1a1a1a" transform="translate(389.50,349.50) scale(0.006055,-0.006055)"/>
<text x="396.40" y="349.50" font-size="12.4" fill="#1a1a1a">5</text>
<text x="423.30" y="349.50" font-size="12.4" fill="#1a1a1a">2</text>
<text x="430.20" y="349.50" font-size="12.4" fill="#1a1a1a">0</text>
<text x="457.10" y="349.50" font-size="12.4" fill="#1a1a1a">2</text>
<text x="464.00" y="349.50" font-size="12.4" fill="#1a1a1a">5</text>
<text x="490.90" y="349.50" font-size="12.4" fill="#1a1a1a">3</text>
<text x="497.80" y="349.50" font-size="12.4" fill="#1a1a1a">0</text>
<line x1="573.80" y1="28.20" x2="793.20" y2="28.20" stroke="#151515" stroke-width="1.2"/>
<line x1="573.80" y1="27.60" x2="573.80" y2="332.30" stroke="#151515" stroke-width="1.2"/>
<line x1="793.20" y1="27.60" x2="793.20" y2="332.30" stroke="#151515" stroke-width="1.2"/>
<line x1="573.20" y1="332.30" x2="793.80" y2="332.30" stroke="#151515" stroke-width="1.2"/>
<line x1="570.80" y1="322.60" x2="573.80" y2="322.60" stroke="#151515" stroke-width="1.1"/>
<line x1="793.20" y1="322.60" x2="796.20" y2="322.60" stroke="#151515" stroke-width="1.1"/>
<line x1="572.50" y1="315.46" x2="573.80" y2="315.46" stroke="#151515" stroke-width="1.1"/>
<line x1="793.20" y1="315.46" x2="794.50" y2="315.46" stroke="#151515" stroke-width="1.1"/>
<line x1="572.50" y1="308.31" x2="573.80" y2="308.31" stroke="#151515" stroke-width="1.1"/>
<line x1="793.20" y1="308.31" x2="794.50" y2="308.31" stroke="#151515" stroke-width="1.1"/>
<line x1="572.50" y1="301.17" x2="573.80" y2="301.17" stroke="#151515" stroke-width="1.1"/>
<line x1="793.20" y1="301.17" x2="794.50" y2="301.17" stroke="#151515" stroke-width="1.1"/>
<line x1="570.80" y1="294.03" x2="573.80" y2="294.03" stroke="#151515" stroke-width="1.1"/>
<line x1="793.20" y1="294.03" x2="796.20" y2="294.03" stroke="#151515" stroke-width="1.1"/>
<line x1="572.50" y1="286.89" x2="573.80" y2="286.89" stroke="#151515" stroke-width="1.1"/>
<line x1="793.20" y1="286.89" x2="794.50" y2="286.89" stroke="#151515" stroke-width="1.1"/>
<line x1="572.50" y1="279.75" x2="573.80" y2="279.75" stroke="#151515" stroke-width="1.1"/>
<line x1="793.20" y1="279.75" x2="794.50" y2="279.75" stroke="#151515" stroke-width="1.1"/>
<line x1="572.50" y1="272.60" x2="573.80" y2="272.60" stroke="#151515" stroke-width="1.1"/>
<line x1="793.20" y1="272.60" x2="794.50" y2="272.60" stroke="#151515" stroke-width="1.1"/>
<line x1="570.80" y1="265.46" x2="573.80" y2="265.46" stroke="#151515" stroke-width="1.1"/>
<line x1="793.20" y1="265.46" x2="796.20" y2="265.46" stroke="#151515" stroke-width="1.1"/>
<line x1="572.50" y1="258.32" x2="573.80" y2="258.32" stroke="#151515" stroke-width="1.1"/>
<line x1="793.20" y1="258.32" x2="794.50" y2="258.32" stroke="#151515" stroke-width="1.1"/>
<line x1="572.50" y1="251.18" x2="573.80" y2="251.18" stroke="#151515" stroke-width="1.1"/>
<line x1="793.20" y1="251.18" x2="794.50" y2="251.18" stroke="#151515" stroke-width="1.1"/>
<line x1="572.50" y1="244.03" x2="573.80" y2="244.03" stroke="#151515" stroke-width="1.1"/>
<line x1="793.20" y1="244.03" x2="794.50" y2="244.03" stroke="#151515" stroke-width="1.1"/>
<line x1="570.80" y1="236.89" x2="573.80" y2="236.89" stroke="#151515" stroke-width="1.1"/>
<line x1="793.20" y1="236.89" x2="796.20" y2="236.89" stroke="#151515" stroke-width="1.1"/>
<line x1="572.50" y1="229.75" x2="573.80" y2="229.75" stroke="#151515" stroke-width="1.1"/>
<line x1="793.20" y1="229.75" x2="794.50" y2="229.75" stroke="#151515" stroke-width="1.1"/>
<line x1="572.50" y1="222.60" x2="573.80" y2="222.60" stroke="#151515" stroke-width="1.1"/>
<line x1="793.20" y1="222.60" x2="794.50" y2="222.60" stroke="#151515" stroke-width="1.1"/>
<line x1="572.50" y1="215.46" x2="573.80" y2="215.46" stroke="#151515" stroke-width="1.1"/>
<line x1="793.20" y1="215.46" x2="794.50" y2="215.46" stroke="#151515" stroke-width="1.1"/>
<line x1="570.80" y1="208.32" x2="573.80" y2="208.32" stroke="#151515" stroke-width="1.1"/>
<line x1="793.20" y1="208.32" x2="796.20" y2="208.32" stroke="#151515" stroke-width="1.1"/>
<line x1="572.50" y1="201.18" x2="573.80" y2="201.18" stroke="#151515" stroke-width="1.1"/>
<line x1="793.20" y1="201.18" x2="794.50" y2="201.18" stroke="#151515" stroke-width="1.1"/>
<line x1="572.50" y1="194.04" x2="573.80" y2="194.04" stroke="#151515" stroke-width="1.1"/>
<line x1="793.20" y1="194.04" x2="794.50" y2="194.04" stroke="#151515" stroke-width="1.1"/>
<line x1="572.50" y1="186.89" x2="573.80" y2="186.89" stroke="#151515" stroke-width="1.1"/>
<line x1="793.20" y1="186.89" x2="794.50" y2="186.89" stroke="#151515" stroke-width="1.1"/>
<line x1="570.80" y1="179.75" x2="573.80" y2="179.75" stroke="#151515" stroke-width="1.1"/>
<line x1="793.20" y1="179.75" x2="796.20" y2="179.75" stroke="#151515" stroke-width="1.1"/>
<line x1="572.50" y1="172.61" x2="573.80" y2="172.61" stroke="#151515" stroke-width="1.1"/>
<line x1="793.20" y1="172.61" x2="794.50" y2="172.61" stroke="#151515" stroke-width="1.1"/>
<line x1="572.50" y1="165.47" x2="573.80" y2="165.47" stroke="#151515" stroke-width="1.1"/>
<line x1="793.20" y1="165.47" x2="794.50" y2="165.47" stroke="#151515" stroke-width="1.1"/>
<line x1="572.50" y1="158.32" x2="573.80" y2="158.32" stroke="#151515" stroke-width="1.1"/>
<line x1="793.20" y1="158.32" x2="794.50" y2="158.32" stroke="#151515" stroke-width="1.1"/>
<line x1="570.80" y1="151.18" x2="573.80" y2="151.18" stroke="#151515" stroke-width="1.1"/>
<line x1="793.20" y1="151.18" x2="796.20" y2="151.18" stroke="#151515" stroke-width="1.1"/>
<line x1="572.50" y1="144.04" x2="573.80" y2="144.04" stroke="#151515" stroke-width="1.1"/>
<line x1="793.20" y1="144.04" x2="794.50" y2="144.04" stroke="#151515" stroke-width="1.1"/>
<line x1="572.50" y1="136.89" x2="573.80" y2="136.89" stroke="#151515" stroke-width="1.1"/>
<line x1="793.20" y1="136.89" x2="794.50" y2="136.89" stroke="#151515" stroke-width="1.1"/>
<line x1="572.50" y1="129.75" x2="573.80" y2="129.75" stroke="#151515" stroke-width="1.1"/>
<line x1="793.20" y1="129.75" x2="794.50" y2="129.75" stroke="#151515" stroke-width="1.1"/>
<line x1="570.80" y1="122.61" x2="573.80" y2="122.61" stroke="#151515" stroke-width="1.1"/>
<line x1="793.20" y1="122.61" x2="796.20" y2="122.61" stroke="#151515" stroke-width="1.1"/>
<line x1="572.50" y1="115.47" x2="573.80" y2="115.47" stroke="#151515" stroke-width="1.1"/>
<line x1="793.20" y1="115.47" x2="794.50" y2="115.47" stroke="#151515" stroke-width="1.1"/>
<line x1="572.50" y1="108.32" x2="573.80" y2="108.32" stroke="#151515" stroke-width="1.1"/>
<line x1="793.20" y1="108.32" x2="794.50" y2="108.32" stroke="#151515" stroke-width="1.1"/>
<line x1="572.50" y1="101.18" x2="573.80" y2="101.18" stroke="#151515" stroke-width="1.1"/>
<line x1="793.20" y1="101.18" x2="794.50" y2="101.18" stroke="#151515" stroke-width="1.1"/>
<line x1="570.80" y1="94.04" x2="573.80" y2="94.04" stroke="#151515" stroke-width="1.1"/>
<line x1="793.20" y1="94.04" x2="796.20" y2="94.04" stroke="#151515" stroke-width="1.1"/>
<line x1="572.50" y1="86.90" x2="573.80" y2="86.90" stroke="#151515" stroke-width="1.1"/>
<line x1="793.20" y1="86.90" x2="794.50" y2="86.90" stroke="#151515" stroke-width="1.1"/>
<line x1="572.50" y1="79.75" x2="573.80" y2="79.75" stroke="#151515" stroke-width="1.1"/>
<line x1="793.20" y1="79.75" x2="794.50" y2="79.75" stroke="#151515" stroke-width="1.1"/>
<line x1="572.50" y1="72.61" x2="573.80" y2="72.61" stroke="#151515" stroke-width="1.1"/>
<line x1="793.20" y1="72.61" x2="794.50" y2="72.61" stroke="#151515" stroke-width="1.1"/>
<line x1="570.80" y1="65.47" x2="573.80" y2="65.47" stroke="#151515" stroke-width="1.1"/>
<line x1="793.20" y1="65.47" x2="796.20" y2="65.47" stroke="#151515" stroke-width="1.1"/>
<line x1="572.50" y1="58.33" x2="573.80" y2="58.33" stroke="#151515" stroke-width="1.1"/>
<line x1="793.20" y1="58.33" x2="794.50" y2="58.33" stroke="#151515" stroke-width="1.1"/>
<line x1="572.50" y1="51.18" x2="573.80" y2="51.18" stroke="#151515" stroke-width="1.1"/>
<line x1="793.20" y1="51.18" x2="794.50" y2="51.18" stroke="#151515" stroke-width="1.1"/>
<line x1="572.50" y1="44.04" x2="573.80" y2="44.04" stroke="#151515" stroke-width="1.1"/>
<line x1="793.20" y1="44.04" x2="794.50" y2="44.04" stroke="#151515" stroke-width="1.1"/>
<line x1="570.80" y1="36.90" x2="573.80" y2="36.90" stroke="#151515" stroke-width="1.1"/>
<line x1="793.20" y1="36.90" x2="796.20" y2="36.90" stroke="#151515" stroke-width="1.1"/>
<line x1="572.50" y1="29.76" x2="573.80" y2="29.76" stroke="#151515" stroke-width="1.1"/>
<line x1="793.20" y1="29.76" x2="794.50" y2="29.76" stroke="#151515" stroke-width="1.1"/>
<line x1="582.00" y1="332.30" x2="582.00" y2="335.30" stroke="#151515" stroke-width="1.1"/>
<line x1="582.00" y1="25.20" x2="582.00" y2="28.20" stroke="#151515" stroke-width="1.1"/>
<line x1="588.74" y1="332.30" x2="588.74" y2="333.60" stroke="#151515" stroke-width="1.1"/>
<line x1="588.74" y1="26.90" x2="588.74" y2="28.20" stroke="#151515" stroke-width="1.1"/>
<line x1="595.48" y1="332.30" x2="595.48" y2="333.60" stroke="#151515" stroke-width="1.1"/>
<line x1="595.48" y1="26.90" x2="595.48" y2="28.20" stroke="#151515" stroke-width="1.1"/>
<line x1="602.22" y1="332.30" x2="602.22" y2="333.60" stroke="#151515" stroke-width="1.1"/>
<line x1="602.22" y1="26.90" x2="602.22" y2="28.20" stroke="#151515" stroke-width="1.1"/>
<line x1="608.96" y1="332.30" x2="608.96" y2="333.60" stroke="#151515" stroke-width="1.1"/>
<line x1="608.96" y1="26.90" x2="608.96" y2="28.20" stroke="#151515" stroke-width="1.1"/>
<line x1="615.70" y1="332.30" x2="615.70" y2="335.30" stroke="#151515" stroke-width="1.1"/>
<line x1="615.70" y1="25.20" x2="615.70" y2="28.20" stroke="#151515" stroke-width="1.1"/>
<line x1="622.44" y1="332.30" x2="622.44" y2="333.60" stroke="#151515" stroke-width="1.1"/>
<line x1="622.44" y1="26.90" x2="622.44" y2="28.20" stroke="#151515" stroke-width="1.1"/>
<line x1="629.18" y1="332.30" x2="629.18" y2="333.60" stroke="#151515" stroke-width="1.1"/>
<line x1="629.18" y1="26.90" x2="629.18" y2="28.20" stroke="#151515" stroke-width="1.1"/>
<line x1="635.92" y1="332.30" x2="635.92" y2="333.60" stroke="#151515" stroke-width="1.1"/>
<line x1="635.92" y1="26.90" x2="635.92" y2="28.20" stroke="#151515" stroke-width="1.1"/>
<line x1="642.66" y1="332.30" x2="642.66" y2="333.60" stroke="#151515" stroke-width="1.1"/>
<line x1="642.66" y1="26.90" x2="642.66" y2="28.20" stroke="#151515" stroke-width="1.1"/>
<line x1="649.40" y1="332.30" x2="649.40" y2="335.30" stroke="#151515" stroke-width="1.1"/>
<line x1="649.40" y1="25.20" x2="649.40" y2="28.20" stroke="#151515" stroke-width="1.1"/>
<line x1="656.14" y1="332.30" x2="656.14" y2="333.60" stroke="#151515" stroke-width="1.1"/>
<line x1="656.14" y1="26.90" x2="656.14" y2="28.20" stroke="#151515" stroke-width="1.1"/>
<line x1="662.88" y1="332.30" x2="662.88" y2="333.60" stroke="#151515" stroke-width="1.1"/>
<line x1="662.88" y1="26.90" x2="662.88" y2="28.20" stroke="#151515" stroke-width="1.1"/>
<line x1="669.62" y1="332.30" x2="669.62" y2="333.60" stroke="#151515" stroke-width="1.1"/>
<line x1="669.62" y1="26.90" x2="669.62" y2="28.20" stroke="#151515" stroke-width="1.1"/>
<line x1="676.36" y1="332.30" x2="676.36" y2="333.60" stroke="#151515" stroke-width="1.1"/>
<line x1="676.36" y1="26.90" x2="676.36" y2="28.20" stroke="#151515" stroke-width="1.1"/>
<line x1="683.10" y1="332.30" x2="683.10" y2="335.30" stroke="#151515" stroke-width="1.1"/>
<line x1="683.10" y1="25.20" x2="683.10" y2="28.20" stroke="#151515" stroke-width="1.1"/>
<line x1="689.84" y1="332.30" x2="689.84" y2="333.60" stroke="#151515" stroke-width="1.1"/>
<line x1="689.84" y1="26.90" x2="689.84" y2="28.20" stroke="#151515" stroke-width="1.1"/>
<line x1="696.58" y1="332.30" x2="696.58" y2="333.60" stroke="#151515" stroke-width="1.1"/>
<line x1="696.58" y1="26.90" x2="696.58" y2="28.20" stroke="#151515" stroke-width="1.1"/>
<line x1="703.32" y1="332.30" x2="703.32" y2="333.60" stroke="#151515" stroke-width="1.1"/>
<line x1="703.32" y1="26.90" x2="703.32" y2="28.20" stroke="#151515" stroke-width="1.1"/>
<line x1="710.06" y1="332.30" x2="710.06" y2="333.60" stroke="#151515" stroke-width="1.1"/>
<line x1="710.06" y1="26.90" x2="710.06" y2="28.20" stroke="#151515" stroke-width="1.1"/>
<line x1="716.80" y1="332.30" x2="716.80" y2="335.30" stroke="#151515" stroke-width="1.1"/>
<line x1="716.80" y1="25.20" x2="716.80" y2="28.20" stroke="#151515" stroke-width="1.1"/>
<line x1="723.54" y1="332.30" x2="723.54" y2="333.60" stroke="#151515" stroke-width="1.1"/>
<line x1="723.54" y1="26.90" x2="723.54" y2="28.20" stroke="#151515" stroke-width="1.1"/>
<line x1="730.28" y1="332.30" x2="730.28" y2="333.60" stroke="#151515" stroke-width="1.1"/>
<line x1="730.28" y1="26.90" x2="730.28" y2="28.20" stroke="#151515" stroke-width="1.1"/>
<line x1="737.02" y1="332.30" x2="737.02" y2="333.60" stroke="#151515" stroke-width="1.1"/>
<line x1="737.02" y1="26.90" x2="737.02" y2="28.20" stroke="#151515" stroke-width="1.1"/>
<line x1="743.76" y1="332.30" x2="743.76" y2="333.60" stroke="#151515" stroke-width="1.1"/>
<line x1="743.76" y1="26.90" x2="743.76" y2="28.20" stroke="#151515" stroke-width="1.1"/>
<line x1="750.50" y1="332.30" x2="750.50" y2="335.30" stroke="#151515" stroke-width="1.1"/>
<line x1="750.50" y1="25.20" x2="750.50" y2="28.20" stroke="#151515" stroke-width="1.1"/>
<line x1="757.24" y1="332.30" x2="757.24" y2="333.60" stroke="#151515" stroke-width="1.1"/>
<line x1="757.24" y1="26.90" x2="757.24" y2="28.20" stroke="#151515" stroke-width="1.1"/>
<line x1="763.98" y1="332.30" x2="763.98" y2="333.60" stroke="#151515" stroke-width="1.1"/>
<line x1="763.98" y1="26.90" x2="763.98" y2="28.20" stroke="#151515" stroke-width="1.1"/>
<line x1="770.72" y1="332.30" x2="770.72" y2="333.60" stroke="#151515" stroke-width="1.1"/>
<line x1="770.72" y1="26.90" x2="770.72" y2="28.20" stroke="#151515" stroke-width="1.1"/>
<line x1="777.46" y1="332.30" x2="777.46" y2="333.60" stroke="#151515" stroke-width="1.1"/>
<line x1="777.46" y1="26.90" x2="777.46" y2="28.20" stroke="#151515" stroke-width="1.1"/>
<line x1="784.20" y1="332.30" x2="784.20" y2="335.30" stroke="#151515" stroke-width="1.1"/>
<line x1="784.20" y1="25.20" x2="784.20" y2="28.20" stroke="#151515" stroke-width="1.1"/>
<text x="559.10" y="327.00" font-size="12.4" fill="#1a1a1a">0</text>
<text x="555.66" y="298.43" font-size="12.4" fill="#1a1a1a">.</text>
<path d="M583,0L763,0L763,1409L640,1409Q570,1250 223,1060L223,850Q420,950 583,1070Z" fill="#1a1a1a" transform="translate(559.10,298.43) scale(0.006055,-0.006055)"/>
<text x="555.66" y="269.86" font-size="12.4" fill="#1a1a1a">.</text>
<text x="559.10" y="269.86" font-size="12.4" fill="#1a1a1a">2</text>
<text x="555.66" y="241.29" font-size="12.4" fill="#1a1a1a">.</text>
<text x="559.10" y="241.29" font-size="12.4" fill="#1a1a1a">3</text>
<text x="555.66" y="212.72" font-size="12.4" fill="#1a1a1a">.</text>
<text x="559.10" y="212.72" font-size="12.4" fill="#1a1a1a">4</text>
<text x="555.66" y="184.15" font-size="12.4" fill="#1a1a1a">.</text>
<text x="559.10" y="184.15" font-size="12.4" fill="#1a1a1a">5</text>
<text x="555.66" y="155.58" font-size="12.4" fill="#1a1a1a">.</text>
<text x="559.10" y="155.58" font-size="12.4" fill="#1a1a1a">6</text>
<text x="555.66" y="127.01" font-size="12.4" fill="#1a1a1a">.</text>
<text x="559.10" y="127.01" font-size="12.4" fill="#1a1a1a">7</text>
<text x="555.66" y="98.44" font-size="12.4" fill="#1a1a1a">.</text>
<text x="559.10" y="98.44" font-size="12.4" fill="#1a1a1a">8</text>
<text x="555.66" y="69.87" font-size="12.4" fill="#1a1a1a">.</text>
<text x="559.10" y="69.87" font-size="12.4" fill="#1a1a1a">9</text>
<path d="M583,0L763,0L763,1409L640,1409Q570,1250 223,1060L223,850Q420,950 583,1070Z" fill="#1a1a1a" transform="translate(559.10,41.30) scale(0.006055,-0.006055)"/>
<text x="578.55" y="349.70" font-size="12.4" fill="#1a1a1a">0</text>
<text x="612.25" y="349.70" font-size="12.4" fill="#1a1a1a">5</text>
<path d="M583,0L763,0L763,1409L640,1409Q570,1250 223,1060L223,850Q420,950 583,1070Z" fill="#1a1a1a" transform="translate(642.50,349.70) scale(0.006055,-0.006055)"/>
<text x="649.40" y="349.70" font-size="12.4" fill="#1a1a1a">0</text>
<path d="M583,0L763,0L763,1409L640,1409Q570,1250 223,1060L223,850Q420,950 583,1070Z" fill="#1a1a1a" transform="translate(676.20,349.70) scale(0.006055,-0.006055)"/>
<text x="683.10" y="349.70" font-size="12.4" fill="#1a1a1a">5</text>
<text x="709.90" y="349.70" font-size="12.4" fill="#1a1a1a">2</text>
<text x="716.80" y="349.70" font-size="12.4" fill="#1a1a1a">0</text>
<text x="743.60" y="349.70" font-size="12.4" fill="#1a1a1a">2</text>
<text x="750.50" y="349.70" font-size="12.4" fill="#1a1a1a">5</text>
<text x="777.30" y="349.70" font-size="12.4" fill="#1a1a1a">3</text>
<text x="784.20" y="349.70" font-size="12.4" fill="#1a1a1a">0</text>
<text x="13.5" y="16.7" font-size="19" text-anchor="start" font-weight="bold" fill="#000">A</text>
<text x="275.2" y="16.7" font-size="19" text-anchor="start" font-weight="bold" fill="#000">B</text>
<text x="568.6" y="16.9" font-size="19" text-anchor="start" font-weight="bold" fill="#000">C</text>
<text x="100.8" y="56.9" font-size="12" text-anchor="start" font-weight="normal" fill="#141414" stroke="#141414" stroke-width="0.3" textLength="96.2" lengthAdjust="spacingAndGlyphs">Minimal invasion</text>
<text x="154.1" y="97.7" font-size="13.4" fill="#141414" textLength="50.80" lengthAdjust="spacingAndGlyphs"><tspan font-style="italic">p</tspan>&lt;0.000</text>
<path d="M583,0L763,0L763,1409L640,1409Q570,1250 223,1060L223,850Q420,950 583,1070Z" fill="#141414" transform="translate(204.90,97.7) scale(0.006810,-0.006543)"/>
<text x="87.5" y="137.0" font-size="11.8" text-anchor="start" font-weight="normal" fill="#141414" stroke="#141414" stroke-width="0.3" textLength="106.2" lengthAdjust="spacingAndGlyphs" xml:space="preserve">Extensive  invasion</text>
<text x="428.4" y="64.0" font-size="12" text-anchor="start" font-weight="normal" fill="#141414" stroke="#141414" stroke-width="0.3" textLength="40.7" lengthAdjust="spacingAndGlyphs">Female</text>
<text x="421.5" y="98.0" font-size="13.4" fill="#141414" textLength="51.36" lengthAdjust="spacingAndGlyphs"><tspan font-style="italic">p</tspan>=0.000</text>
<path d="M583,0L763,0L763,1409L640,1409Q570,1250 223,1060L223,850Q420,950 583,1070Z" fill="#141414" transform="translate(472.86,98.0) scale(0.006886,-0.006543)"/>
<text x="408.7" y="116.7" font-size="12" text-anchor="start" font-weight="normal" fill="#141414" stroke="#141414" stroke-width="0.3" textLength="27.3" lengthAdjust="spacingAndGlyphs">Male</text>
<text x="656.1" y="56.7" font-size="12" text-anchor="start" font-weight="normal" fill="#141414" stroke="#141414" stroke-width="0.3" textLength="117.6" lengthAdjust="spacingAndGlyphs">Mortality due to PTC</text>
<text x="729.1" y="116.8" font-size="13.4" fill="#141414" textLength="51.36" lengthAdjust="spacingAndGlyphs"><tspan font-style="italic">p</tspan>&lt;0.000</text>
<path d="M583,0L763,0L763,1409L640,1409Q570,1250 223,1060L223,850Q420,950 583,1070Z" fill="#141414" transform="translate(780.46,116.8) scale(0.006886,-0.006543)"/>
<text x="662.7" y="143.3" font-size="12" text-anchor="start" font-weight="normal" fill="#141414" stroke="#141414" stroke-width="0.3" textLength="83.2" lengthAdjust="spacingAndGlyphs">Total mortality</text>
<text x="60.9" y="371.0" font-size="12.2" text-anchor="start" font-weight="normal" fill="#141414" stroke="#141414" stroke-width="0.3" textLength="138.3" lengthAdjust="spacingAndGlyphs">Follow-up period (year)</text>
<text x="328.1" y="369.6" font-size="12.2" text-anchor="start" font-weight="normal" fill="#141414" stroke="#141414" stroke-width="0.3" textLength="138.9" lengthAdjust="spacingAndGlyphs">Follow-up period (year)</text>
<text x="612.3" y="370.7" font-size="12.2" text-anchor="start" font-weight="normal" fill="#141414" stroke="#141414" stroke-width="0.3" textLength="138.3" lengthAdjust="spacingAndGlyphs">Follow-up period (year)</text>
<text x="0" y="0" font-size="12.2" fill="#141414" stroke="#141414" stroke-width="0.3" textLength="74.2" lengthAdjust="spacingAndGlyphs" transform="translate(546.6,216) rotate(-90)">Survival rate</text>
<path d="M27.40,36.80H31.50V37.90H38.30V38.30H41.40V39.80H52.70V40.80H56.60V42.30H81.00V43.00H84.80V43.60H96.70V46.30H218.00" stroke="#0c0cb0" stroke-width="1.9" fill="none"/>
<path d="M23.90,36.80H31.10M27.50,32.60V41.00" stroke="#0808e8" stroke-width="2.4" fill="none"/>
<path d="M34.70,38.20H41.90M38.30,34.00V42.40" stroke="#0808e8" stroke-width="2.4" fill="none"/>
<path d="M37.80,39.80H45.00M41.40,35.60V44.00" stroke="#0808e8" stroke-width="2.4" fill="none"/>
<path d="M53.00,42.20H60.20M56.60,38.00V46.40" stroke="#0808e8" stroke-width="2.4" fill="none"/>
<path d="M81.20,43.50H88.40M84.80,39.30V47.70" stroke="#0808e8" stroke-width="2.4" fill="none"/>
<path d="M93.10,45.40H100.30M96.70,41.20V49.60" stroke="#0808e8" stroke-width="2.4" fill="none"/>
<path d="M27.40,37.40H27.40V38.60H30.00V40.80H32.30V43.30H34.50V46.50H36.30V49.60H38.00V52.60H39.30V55.50H40.50V58.00H41.30V59.60H47.50V63.90H58.70V67.30H60.30V70.20H76.30V74.00H80.60V77.20H90.20V80.80H92.30V84.50H104.40V88.50H106.00V92.20H117.30V97.00H118.70V101.20H120.70V105.70H141.60V115.20H147.20V125.80H224.60" stroke="#bc1c1c" stroke-width="1.9" fill="none"/>
<path d="M23.50,42.90L27.40,35.60L31.30,42.90Z" fill="#f00000"/>
<path d="M26.10,45.10L30.00,37.80L33.90,45.10Z" fill="#f00000"/>
<path d="M28.40,47.60L32.30,40.30L36.20,47.60Z" fill="#f00000"/>
<path d="M30.60,50.80L34.50,43.50L38.40,50.80Z" fill="#f00000"/>
<path d="M32.40,53.90L36.30,46.60L40.20,53.90Z" fill="#f00000"/>
<path d="M34.10,56.90L38.00,49.60L41.90,56.90Z" fill="#f00000"/>
<path d="M35.40,59.80L39.30,52.50L43.20,59.80Z" fill="#f00000"/>
<path d="M36.60,62.30L40.50,55.00L44.40,62.30Z" fill="#f00000"/>
<path d="M37.40,63.90L41.30,56.60L45.20,63.90Z" fill="#f00000"/>
<path d="M43.60,68.20L47.50,60.90L51.40,68.20Z" fill="#f00000"/>
<path d="M54.80,71.60L58.70,64.30L62.60,71.60Z" fill="#f00000"/>
<path d="M56.40,74.50L60.30,67.20L64.20,74.50Z" fill="#f00000"/>
<path d="M72.40,78.30L76.30,71.00L80.20,78.30Z" fill="#f00000"/>
<path d="M76.70,81.50L80.60,74.20L84.50,81.50Z" fill="#f00000"/>
<path d="M86.30,85.10L90.20,77.80L94.10,85.10Z" fill="#f00000"/>
<path d="M88.40,88.80L92.30,81.50L96.20,88.80Z" fill="#f00000"/>
<path d="M100.50,92.80L104.40,85.50L108.30,92.80Z" fill="#f00000"/>
<path d="M102.10,96.50L106.00,89.20L109.90,96.50Z" fill="#f00000"/>
<path d="M113.40,101.30L117.30,94.00L121.20,101.30Z" fill="#f00000"/>
<path d="M114.80,105.50L118.70,98.20L122.60,105.50Z" fill="#f00000"/>
<path d="M116.80,110.00L120.70,102.70L124.60,110.00Z" fill="#f00000"/>
<path d="M137.70,119.50L141.60,112.20L145.50,119.50Z" fill="#f00000"/>
<path d="M143.30,130.10L147.20,122.80L151.10,130.10Z" fill="#f00000"/>
<path d="M295.00,37.60H299.30V40.60H301.50V43.20H305.80V45.50H306.20V47.20H306.30V48.80H306.50V50.30H306.60V51.90H306.80V53.50H307.00V55.60H307.20V58.30H326.20V63.00H327.80V66.80H328.80V72.60H348.80V77.70H354.80V82.80H365.30V87.60H371.30V93.20H374.60V100.00H386.60V109.80H388.70V119.80H492.80" stroke="#1c5e1c" stroke-width="1.9" fill="none"/>
<path d="M295.00,37.60H295.30V38.00H300.00V42.00H304.50V42.00H308.80V42.80H311.80V44.80H315.40V45.60H344.30V47.20H358.40V49.00H360.00V50.60H386.00V52.90H409.40V59.30H414.70V67.50H485.80" stroke="#bc1c1c" stroke-width="1.9" fill="none"/>
<path d="M290.05,43.70L295.30,33.10L300.55,43.70Z" fill="#f00000"/>
<path d="M294.75,47.70L300.00,37.10L305.25,47.70Z" fill="#f00000"/>
<path d="M299.25,47.70L304.50,37.10L309.75,47.70Z" fill="#f00000"/>
<path d="M303.55,48.50L308.80,37.90L314.05,48.50Z" fill="#f00000"/>
<path d="M306.55,50.50L311.80,39.90L317.05,50.50Z" fill="#f00000"/>
<path d="M310.15,51.30L315.40,40.70L320.65,51.30Z" fill="#f00000"/>
<path d="M339.05,52.90L344.30,42.30L349.55,52.90Z" fill="#f00000"/>
<path d="M353.15,54.70L358.40,44.10L363.65,54.70Z" fill="#f00000"/>
<path d="M354.75,56.30L360.00,45.70L365.25,56.30Z" fill="#f00000"/>
<path d="M380.75,58.60L386.00,48.00L391.25,58.60Z" fill="#f00000"/>
<path d="M404.15,65.00L409.40,54.40L414.65,65.00Z" fill="#f00000"/>
<path d="M409.45,73.20L414.70,62.60L419.95,73.20Z" fill="#f00000"/>
<path d="M293.80,35.50L304.80,35.50L299.30,45.60Z" fill="#087808"/>
<path d="M296.00,38.10L307.00,38.10L301.50,48.20Z" fill="#087808"/>
<path d="M300.30,40.40L311.30,40.40L305.80,50.50Z" fill="#087808"/>
<path d="M300.70,42.10L311.70,42.10L306.20,52.20Z" fill="#087808"/>
<path d="M300.80,43.70L311.80,43.70L306.30,53.80Z" fill="#087808"/>
<path d="M301.00,45.20L312.00,45.20L306.50,55.30Z" fill="#087808"/>
<path d="M301.10,46.80L312.10,46.80L306.60,56.90Z" fill="#087808"/>
<path d="M301.30,48.40L312.30,48.40L306.80,58.50Z" fill="#087808"/>
<path d="M301.50,50.50L312.50,50.50L307.00,60.60Z" fill="#087808"/>
<path d="M301.70,53.20L312.70,53.20L307.20,63.30Z" fill="#087808"/>
<path d="M320.70,57.90L331.70,57.90L326.20,68.00Z" fill="#087808"/>
<path d="M322.30,61.70L333.30,61.70L327.80,71.80Z" fill="#087808"/>
<path d="M323.30,67.50L334.30,67.50L328.80,77.60Z" fill="#087808"/>
<path d="M343.30,72.60L354.30,72.60L348.80,82.70Z" fill="#087808"/>
<path d="M349.30,77.70L360.30,77.70L354.80,87.80Z" fill="#087808"/>
<path d="M359.80,82.50L370.80,82.50L365.30,92.60Z" fill="#087808"/>
<path d="M365.80,88.10L376.80,88.10L371.30,98.20Z" fill="#087808"/>
<path d="M369.10,94.90L380.10,94.90L374.60,105.00Z" fill="#087808"/>
<path d="M381.10,104.70L392.10,104.70L386.60,114.80Z" fill="#087808"/>
<path d="M383.20,114.70L394.20,114.70L388.70,124.80Z" fill="#087808"/>
<path d="M582.00,36.90H582.00V37.40H584.00V38.70H586.00V40.00H588.00V41.20H590.00V42.40H592.00V43.50H594.00V44.60H596.00V46.00H598.00V47.40H600.15V47.90H602.30V48.40H611.40V49.70H614.60V51.30H631.50V53.50H636.20V54.40H641.40V55.30H646.50V57.20H652.60V59.10H656.80V60.60H661.20V61.80H673.00V64.60H675.60V67.90H696.60V73.10H701.40V77.70H779.80" stroke="#bc1c1c" stroke-width="1.9" fill="none"/>
<path d="M576.70,43.00L582.00,32.20L587.30,43.00Z" fill="#f00000"/>
<path d="M578.70,44.30L584.00,33.50L589.30,44.30Z" fill="#f00000"/>
<path d="M580.70,45.60L586.00,34.80L591.30,45.60Z" fill="#f00000"/>
<path d="M582.70,46.80L588.00,36.00L593.30,46.80Z" fill="#f00000"/>
<path d="M584.70,48.00L590.00,37.20L595.30,48.00Z" fill="#f00000"/>
<path d="M586.70,49.10L592.00,38.30L597.30,49.10Z" fill="#f00000"/>
<path d="M588.70,50.20L594.00,39.40L599.30,50.20Z" fill="#f00000"/>
<path d="M590.70,51.60L596.00,40.80L601.30,51.60Z" fill="#f00000"/>
<path d="M592.70,53.00L598.00,42.20L603.30,53.00Z" fill="#f00000"/>
<path d="M594.85,53.50L600.15,42.70L605.45,53.50Z" fill="#f00000"/>
<path d="M597.00,54.00L602.30,43.20L607.60,54.00Z" fill="#f00000"/>
<path d="M606.10,55.30L611.40,44.50L616.70,55.30Z" fill="#f00000"/>
<path d="M609.30,56.90L614.60,46.10L619.90,56.90Z" fill="#f00000"/>
<path d="M626.20,59.10L631.50,48.30L636.80,59.10Z" fill="#f00000"/>
<path d="M630.90,60.00L636.20,49.20L641.50,60.00Z" fill="#f00000"/>
<path d="M636.10,60.90L641.40,50.10L646.70,60.90Z" fill="#f00000"/>
<path d="M641.20,62.80L646.50,52.00L651.80,62.80Z" fill="#f00000"/>
<path d="M647.30,64.70L652.60,53.90L657.90,64.70Z" fill="#f00000"/>
<path d="M651.50,66.20L656.80,55.40L662.10,66.20Z" fill="#f00000"/>
<path d="M655.90,67.40L661.20,56.60L666.50,67.40Z" fill="#f00000"/>
<path d="M667.70,70.20L673.00,59.40L678.30,70.20Z" fill="#f00000"/>
<path d="M670.30,73.50L675.60,62.70L680.90,73.50Z" fill="#f00000"/>
<path d="M691.30,78.70L696.60,67.90L701.90,78.70Z" fill="#f00000"/>
<path d="M696.10,83.30L701.40,72.50L706.70,83.30Z" fill="#f00000"/>
<polygon points="578.0,36.55 580.0,34.90 582.0,36.64 584.0,38.39 586.0,40.13 588.0,41.77 590.0,43.31 592.0,44.86 594.0,46.40 596.0,48.06 598.0,49.71 600.0,51.37 602.0,53.23 604.0,55.30 606.0,57.37 608.0,58.91 610.0,59.94 612.0,60.97 614.0,62.00 616.0,62.80 618.0,63.60 620.0,64.40 622.0,65.68 624.0,66.96 626.0,68.06 628.0,68.98 630.0,69.90 632.0,70.83 634.0,71.77 636.0,72.70 638.0,73.80 640.0,74.90 642.0,76.07 644.0,77.23 646.0,78.40 648.0,79.93 650.0,81.47 652.0,83.00 654.0,84.07 656.0,85.13 658.0,86.20 660.0,86.93 662.0,87.67 664.0,88.40 666.0,88.90 668.0,89.40 670.0,90.80 672.0,92.20 674.0,93.60 676.0,95.47 677.0,98.60 675.0,97.60 673.0,95.98 671.0,93.75 669.0,91.52 667.0,89.90 665.0,88.90 663.0,88.27 661.0,88.00 659.0,87.73 657.0,87.27 655.0,86.60 653.0,85.93 651.0,84.98 649.0,83.75 647.0,82.52 645.0,81.10 643.0,79.50 641.0,77.90 639.0,76.72 637.0,75.97 635.0,75.18 633.0,74.35 631.0,73.52 629.0,72.70 627.0,71.90 625.0,71.10 623.0,70.10 621.0,69.10 619.0,68.10 617.0,67.10 615.0,66.10 613.0,65.10 611.0,64.10 609.0,63.10 607.0,62.10 605.0,60.93 603.0,59.77 601.0,58.60 599.0,57.17 597.0,55.74 595.0,54.31 593.0,52.36 591.0,49.87 589.0,47.39 587.0,44.90 585.0,43.44 583.0,41.99 581.0,40.53 579.0,39.13" fill="#0808e8"/>
<path d="M674.00,97.50H679.50V100.30H684.60V103.00H688.80V106.60H692.40V110.20H696.00V113.80H700.20V116.20H703.00V117.70H713.50V124.70H750.40V157.70H779.80" stroke="#0c0cb0" stroke-width="1.9" fill="none"/>
<path d="M573.30,37.33H581.70M577.50,33.23V41.43" stroke="#0808e8" stroke-width="2.1" fill="none"/>
<path d="M574.63,37.62H583.03M578.83,33.52V41.72" stroke="#0808e8" stroke-width="2.1" fill="none"/>
<path d="M575.79,37.42H584.19M579.99,33.32V41.52" stroke="#0808e8" stroke-width="2.1" fill="none"/>
<path d="M577.60,38.06H586.00M581.80,33.96V42.16" stroke="#0808e8" stroke-width="2.1" fill="none"/>
<path d="M579.71,39.86H588.11M583.91,35.76V43.96" stroke="#0808e8" stroke-width="2.1" fill="none"/>
<path d="M581.67,41.53H590.07M585.87,37.43V45.63" stroke="#0808e8" stroke-width="2.1" fill="none"/>
<path d="M582.87,42.93H591.27M587.07,38.83V47.03" stroke="#0808e8" stroke-width="2.1" fill="none"/>
<path d="M585.68,45.01H594.08M589.88,40.91V49.11" stroke="#0808e8" stroke-width="2.1" fill="none"/>
<path d="M587.18,47.73H595.58M591.38,43.63V51.83" stroke="#0808e8" stroke-width="2.1" fill="none"/>
<path d="M590.26,50.68H598.66M594.46,46.58V54.78" stroke="#0808e8" stroke-width="2.1" fill="none"/>
<path d="M592.13,53.67H600.53M596.33,49.57V57.77" stroke="#0808e8" stroke-width="2.1" fill="none"/>
<path d="M593.24,54.02H601.64M597.44,49.92V58.12" stroke="#0808e8" stroke-width="2.1" fill="none"/>
<path d="M594.87,52.63H603.27M599.07,48.53V56.73" stroke="#0808e8" stroke-width="2.1" fill="none"/>
<path d="M596.13,54.22H604.53M600.33,50.12V58.32" stroke="#0808e8" stroke-width="2.1" fill="none"/>
<path d="M598.93,56.34H607.33M603.13,52.24V60.44" stroke="#0808e8" stroke-width="2.1" fill="none"/>
<path d="M601.21,59.16H609.61M605.41,55.06V63.26" stroke="#0808e8" stroke-width="2.1" fill="none"/>
<path d="M603.03,60.42H611.43M607.23,56.32V64.52" stroke="#0808e8" stroke-width="2.1" fill="none"/>
<path d="M604.16,60.41H612.56M608.36,56.31V64.51" stroke="#0808e8" stroke-width="2.1" fill="none"/>
<path d="M605.62,61.90H614.02M609.82,57.80V66.00" stroke="#0808e8" stroke-width="2.1" fill="none"/>
<path d="M607.56,62.44H615.96M611.76,58.34V66.54" stroke="#0808e8" stroke-width="2.1" fill="none"/>
<path d="M609.85,63.76H618.25M614.05,59.66V67.86" stroke="#0808e8" stroke-width="2.1" fill="none"/>
<path d="M611.51,64.92H619.91M615.71,60.82V69.02" stroke="#0808e8" stroke-width="2.1" fill="none"/>
<path d="M614.04,65.40H622.44M618.24,61.30V69.50" stroke="#0808e8" stroke-width="2.1" fill="none"/>
<path d="M616.31,66.82H624.71M620.51,62.72V70.92" stroke="#0808e8" stroke-width="2.1" fill="none"/>
<path d="M619.23,68.73H627.63M623.43,64.63V72.83" stroke="#0808e8" stroke-width="2.1" fill="none"/>
<path d="M620.87,69.95H629.27M625.07,65.85V74.05" stroke="#0808e8" stroke-width="2.1" fill="none"/>
<path d="M622.13,69.82H630.53M626.33,65.72V73.92" stroke="#0808e8" stroke-width="2.1" fill="none"/>
<path d="M624.79,70.65H633.19M628.99,66.55V74.75" stroke="#0808e8" stroke-width="2.1" fill="none"/>
<path d="M626.87,71.42H635.27M631.07,67.32V75.52" stroke="#0808e8" stroke-width="2.1" fill="none"/>
<path d="M629.34,73.38H637.74M633.54,69.28V77.48" stroke="#0808e8" stroke-width="2.1" fill="none"/>
<path d="M631.60,74.51H640.00M635.80,70.41V78.61" stroke="#0808e8" stroke-width="2.1" fill="none"/>
<path d="M633.29,75.07H641.69M637.49,70.97V79.17" stroke="#0808e8" stroke-width="2.1" fill="none"/>
<path d="M635.60,76.00H644.00M639.80,71.90V80.10" stroke="#0808e8" stroke-width="2.1" fill="none"/>
<path d="M637.60,77.65H646.00M641.80,73.55V81.75" stroke="#0808e8" stroke-width="2.1" fill="none"/>
<path d="M640.68,79.34H649.08M644.88,75.24V83.44" stroke="#0808e8" stroke-width="2.1" fill="none"/>
<path d="M643.14,80.55H651.54M647.34,76.45V84.65" stroke="#0808e8" stroke-width="2.1" fill="none"/>
<path d="M645.68,83.01H654.08M649.88,78.91V87.11" stroke="#0808e8" stroke-width="2.1" fill="none"/>
<path d="M648.87,85.15H657.27M653.07,81.05V89.25" stroke="#0808e8" stroke-width="2.1" fill="none"/>
<path d="M650.49,85.33H658.89M654.69,81.23V89.43" stroke="#0808e8" stroke-width="2.1" fill="none"/>
<path d="M652.96,85.97H661.36M657.16,81.87V90.07" stroke="#0808e8" stroke-width="2.1" fill="none"/>
<path d="M654.98,86.80H663.38M659.18,82.70V90.90" stroke="#0808e8" stroke-width="2.1" fill="none"/>
<path d="M656.24,86.98H664.64M660.44,82.88V91.08" stroke="#0808e8" stroke-width="2.1" fill="none"/>
<path d="M658.93,87.74H667.33M663.13,83.64V91.84" stroke="#0808e8" stroke-width="2.1" fill="none"/>
<path d="M660.47,88.52H668.87M664.67,84.42V92.62" stroke="#0808e8" stroke-width="2.1" fill="none"/>
<path d="M663.39,89.24H671.79M667.59,85.14V93.34" stroke="#0808e8" stroke-width="2.1" fill="none"/>
<path d="M665.38,91.39H673.78M669.58,87.29V95.49" stroke="#0808e8" stroke-width="2.1" fill="none"/>
<path d="M668.32,94.39H676.72M672.52,90.29V98.49" stroke="#0808e8" stroke-width="2.1" fill="none"/>
<path d="M671.22,96.10H679.62M675.42,92.00V100.20" stroke="#0808e8" stroke-width="2.1" fill="none"/>
<path d="M675.30,100.30H683.70M679.50,96.20V104.40" stroke="#0808e8" stroke-width="2.1" fill="none"/>
<path d="M680.40,103.00H688.80M684.60,98.90V107.10" stroke="#0808e8" stroke-width="2.1" fill="none"/>
<path d="M684.60,106.60H693.00M688.80,102.50V110.70" stroke="#0808e8" stroke-width="2.1" fill="none"/>
<path d="M688.20,110.20H696.60M692.40,106.10V114.30" stroke="#0808e8" stroke-width="2.1" fill="none"/>
<path d="M691.80,113.80H700.20M696.00,109.70V117.90" stroke="#0808e8" stroke-width="2.1" fill="none"/>
<path d="M696.00,116.20H704.40M700.20,112.10V120.30" stroke="#0808e8" stroke-width="2.1" fill="none"/>
<path d="M707.80,124.70H716.20M712.00,120.60V128.80" stroke="#0808e8" stroke-width="2.1" fill="none"/>
<path d="M745.10,157.70H753.50M749.30,153.60V161.80" stroke="#0808e8" stroke-width="2.1" fill="none"/>
<line x1="185.00" y1="80.00" x2="185.00" y2="66.70" stroke="#333" stroke-width="1.4"/>
<path d="M181.40,66.70L185.00,60.40L188.60,66.70Z" fill="#111"/>
<line x1="185.00" y1="106.20" x2="185.00" y2="119.60" stroke="#333" stroke-width="1.4"/>
<path d="M181.40,119.60L185.00,125.90L188.60,119.60Z" fill="#111"/>
<line x1="452.80" y1="83.20" x2="452.80" y2="73.50" stroke="#333" stroke-width="1.4"/>
<path d="M449.20,73.50L452.80,67.20L456.40,73.50Z" fill="#111"/>
<line x1="452.80" y1="100.00" x2="452.80" y2="109.70" stroke="#333" stroke-width="1.4"/>
<path d="M449.20,109.70L452.80,116.00L456.40,109.70Z" fill="#111"/>
<line x1="760.10" y1="98.10" x2="760.10" y2="85.90" stroke="#333" stroke-width="1.4"/>
<path d="M756.50,85.90L760.10,79.60L763.70,85.90Z" fill="#111"/>
<line x1="760.10" y1="126.90" x2="760.10" y2="145.20" stroke="#333" stroke-width="1.4"/>
<path d="M756.50,145.20L760.10,151.50L763.70,145.20Z" fill="#111"/>
</svg>
</body></html>
